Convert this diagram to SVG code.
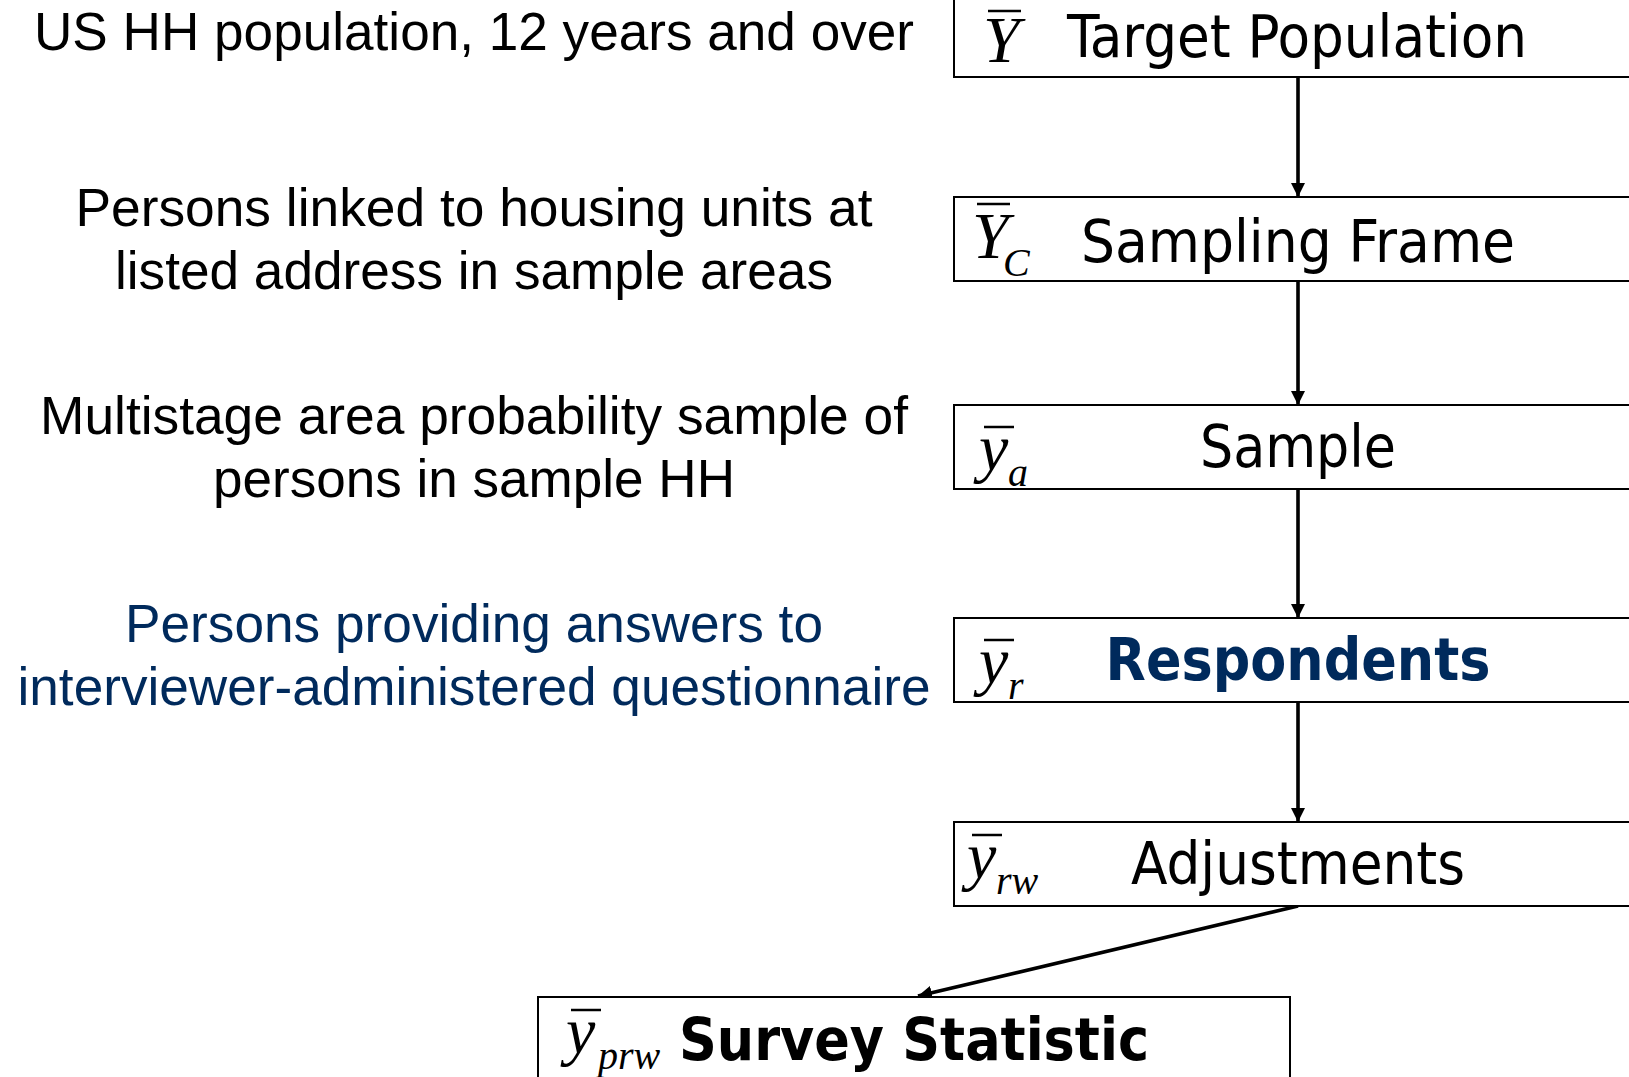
<svg xmlns="http://www.w3.org/2000/svg" width="1629" height="1077" viewBox="0 0 1629 1077">
  <style>
    .box { fill: #ffffff; stroke: #000000; stroke-width: 2; }
    .desc { font-family: "Liberation Sans", Arial, sans-serif; font-size: 53px; fill: #000000; text-anchor: middle; }
    .lbl { font-family: "DejaVu Sans Condensed", "DejaVu Sans", sans-serif; font-stretch: condensed; font-size: 58px; fill: #000000; text-anchor: middle; }
    .bold { font-weight: bold; }
    .navy { fill: #002a5c; }
    .sym { font-family: "Liberation Serif", "Times New Roman", serif; font-style: italic; font-size: 66px; fill: #000000; }
    .sub { font-family: "Liberation Serif", "Times New Roman", serif; font-style: italic; font-size: 40px; fill: #000000; }
    .bar { stroke: #000000; stroke-width: 2.5; }
    .conn { stroke: #000000; stroke-width: 3.6; fill: none; }
  </style>
  <defs>
    <marker id="arrow" viewBox="0 0 10 10" refX="10" refY="5" markerWidth="3.9" markerHeight="3.9" orient="auto" markerUnits="strokeWidth">
      <path d="M0,0 L10,5 L0,10 Z" fill="#000000"/>
    </marker>
  </defs>
  <rect width="1629" height="1077" fill="#ffffff"/>

  <!-- descriptions on the left -->
  <g id="descriptions">
    <text class="desc" x="474" y="50" textLength="880" lengthAdjust="spacingAndGlyphs">US HH population, 12 years and over</text>
    <text class="desc" x="474" y="226" textLength="797" lengthAdjust="spacingAndGlyphs">Persons linked to housing units at</text>
    <text class="desc" x="474" y="289" textLength="718" lengthAdjust="spacingAndGlyphs">listed address in sample areas</text>
    <text class="desc" x="474" y="434" textLength="868" lengthAdjust="spacingAndGlyphs">Multistage area probability sample of</text>
    <text class="desc" x="474" y="497" textLength="522" lengthAdjust="spacingAndGlyphs">persons in sample HH</text>
    <text class="desc navy" x="474" y="642" textLength="698" lengthAdjust="spacingAndGlyphs">Persons providing answers to</text>
    <text class="desc navy" x="474" y="705" textLength="913" lengthAdjust="spacingAndGlyphs">interviewer-administered questionnaire</text>
  </g>

  <!-- connectors -->
  <g id="connectors">
    <line class="conn" x1="1298" y1="77" x2="1298" y2="197" marker-end="url(#arrow)"/>
    <line class="conn" x1="1298" y1="281" x2="1298" y2="405" marker-end="url(#arrow)"/>
    <line class="conn" x1="1298" y1="489" x2="1298" y2="618" marker-end="url(#arrow)"/>
    <line class="conn" x1="1298" y1="702" x2="1298" y2="822" marker-end="url(#arrow)"/>
    <line class="conn" x1="1298" y1="906" x2="918" y2="996" stroke-width="4.6" marker-end="url(#arrow)"/>
  </g>

  <g id="target-population">
    <rect class="box" x="954" y="-10" width="700" height="87"/>
    <line class="bar" x1="988" y1="11" x2="1021" y2="11"/>
    <text class="sym" x="983" y="62">Y</text>
    <text class="lbl" x="1297" y="57" textLength="460" lengthAdjust="spacingAndGlyphs">Target Population</text>
  </g>

  <g id="sampling-frame">
    <rect class="box" x="954" y="197" width="700" height="84"/>
    <line class="bar" x1="977" y1="204" x2="1010" y2="204"/>
    <text class="sym" x="972" y="258">Y</text>
    <text class="sub" x="1003" y="276">C</text>
    <text class="lbl" x="1298" y="262" textLength="434" lengthAdjust="spacingAndGlyphs">Sampling Frame</text>
  </g>

  <g id="sample">
    <rect class="box" x="954" y="405" width="700" height="84"/>
    <line class="bar" x1="984" y1="427" x2="1014" y2="427"/>
    <text class="sym" x="979" y="470">y</text>
    <text class="sub" x="1008" y="486">a</text>
    <text class="lbl" x="1298" y="467" textLength="196" lengthAdjust="spacingAndGlyphs">Sample</text>
  </g>

  <g id="respondents">
    <rect class="box" x="954" y="618" width="700" height="84"/>
    <line class="bar" x1="984" y1="640" x2="1014" y2="640"/>
    <text class="sym" x="979" y="683">y</text>
    <text class="sub" x="1008" y="699">r</text>
    <text class="lbl bold navy" x="1298" y="680" textLength="385" lengthAdjust="spacingAndGlyphs">Respondents</text>
  </g>

  <g id="adjustments">
    <rect class="box" x="954" y="822" width="700" height="84"/>
    <line class="bar" x1="972" y1="835" x2="1002" y2="835"/>
    <text class="sym" x="967" y="878">y</text>
    <text class="sub" x="996" y="894">rw</text>
    <text class="lbl" x="1298" y="884" textLength="334" lengthAdjust="spacingAndGlyphs">Adjustments</text>
  </g>

  <g id="survey-statistic">
    <rect class="box" x="538" y="997" width="752" height="100"/>
    <line class="bar" x1="571" y1="1010" x2="601" y2="1010"/>
    <text class="sym" x="566" y="1053">y</text>
    <text class="sub" x="598" y="1069" font-size="38">prw</text>
    <text class="lbl bold" x="914" y="1060" textLength="470" lengthAdjust="spacingAndGlyphs">Survey Statistic</text>
  </g>
</svg>
